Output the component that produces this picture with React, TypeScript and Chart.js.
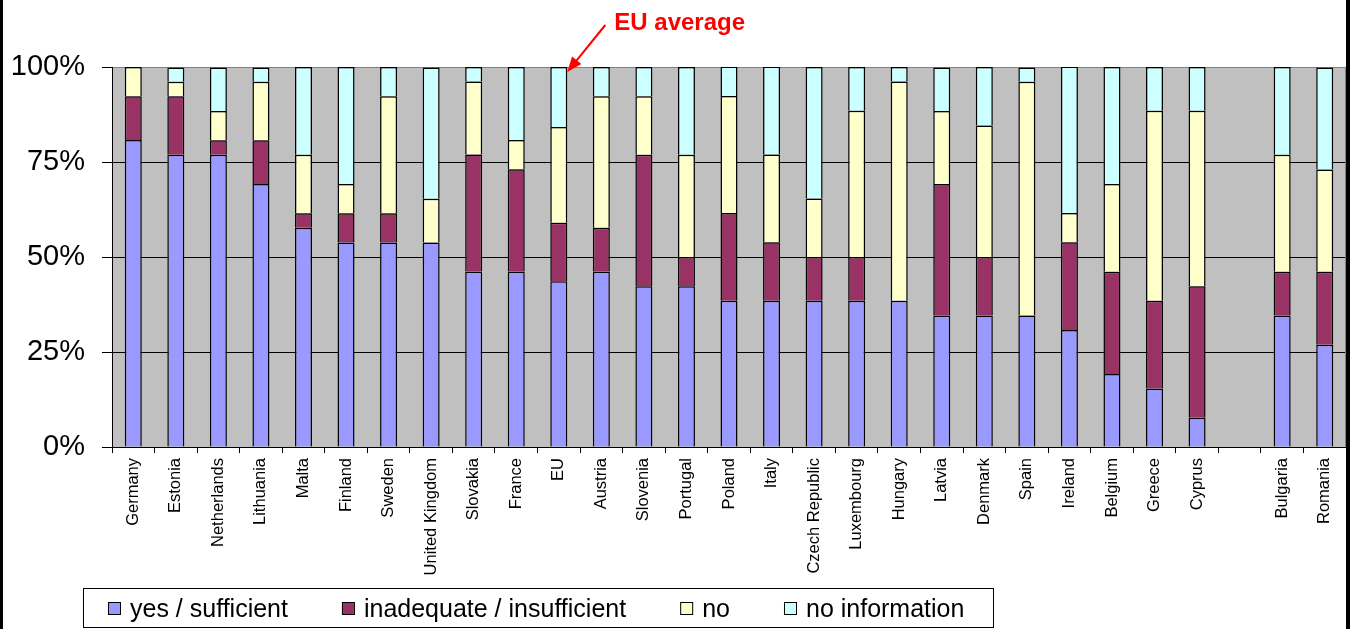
import React, { useEffect, useRef } from 'react';
import { Chart, registerables } from 'chart.js';

Chart.register(...registerables);

// ---------- data ----------
const categories = [
  'Germany', 'Estonia', 'Netherlands', 'Lithuania', 'Malta', 'Finland', 'Sweden',
  'United Kingdom', 'Slovakia', 'France', 'EU', 'Austria', 'Slovenia', 'Portugal',
  'Poland', 'Italy', 'Czech Republic', 'Luxembourg', 'Hungary', 'Latvia', 'Denmark',
  'Spain', 'Ireland', 'Belgium', 'Greece', 'Cyprus', '', 'Bulgaria', 'Romania',
];

const seriesNames = ['yes / sufficient', 'inadequate / insufficient', 'no', 'no information'];

const yesSufficient = [
  80.8, 76.9, 76.9, 69.2, 57.7, 53.8, 53.8, 53.8, 46.2, 46.2, 43.6, 46.2, 42.3, 42.3,
  38.5, 38.5, 38.5, 38.5, 38.5, 34.6, 34.6, 34.6, 30.8, 19.2, 15.4, 7.7, null, 34.6, 26.9,
];
const inadequateInsufficient = [
  11.5, 15.4, 3.8, 11.5, 3.8, 7.7, 7.7, 0, 30.8, 26.9, 15.4, 11.5, 34.6, 7.7,
  23.1, 15.4, 11.5, 11.5, 0, 34.6, 15.4, 0, 23.1, 26.9, 23.1, 34.6, null, 11.5, 19.2,
];
const no = [
  7.7, 3.8, 7.7, 15.4, 15.4, 7.7, 30.8, 11.5, 19.2, 7.7, 25.2, 34.6, 15.4, 26.9,
  30.8, 23.1, 15.4, 38.5, 57.7, 19.2, 34.6, 61.5, 7.7, 23.1, 50.0, 46.2, null, 30.8, 26.9,
];
const noInformation = [
  0, 3.8, 11.5, 3.8, 23.1, 30.8, 7.7, 34.6, 3.8, 19.2, 15.8, 7.7, 7.7, 23.1,
  7.7, 23.1, 34.6, 11.5, 3.8, 11.5, 15.4, 3.8, 38.5, 30.8, 11.5, 11.5, null, 23.1, 26.9,
];

const yTickValues = [0, 25, 50, 75, 100];
const annotationText = 'EU average';
const annotatedCategory = 'EU';

// ---------- styles ----------
const COLORS = ['#9999FF', '#993366', '#FFFFCC', '#CCFFFF'];
const FONT = '"Liberation Sans", Arial, sans-serif';
const W = 1350;
const H = 629;

const chromePlugin = {
  id: 'chrome',
  beforeDraw(chart: any) {
    const { ctx, chartArea } = chart;
    ctx.save();
    ctx.fillStyle = '#FFFFFF';
    ctx.fillRect(0, 0, chart.width, chart.height);
    ctx.fillStyle = '#C0C0C0';
    ctx.fillRect(chartArea.left, chartArea.top, chartArea.right - chartArea.left, chartArea.bottom - chartArea.top);
    ctx.restore();
  },
  afterDraw(chart: any) {
    const { ctx, chartArea, scales } = chart;
    ctx.save();
    // plot right border
    ctx.strokeStyle = '#808080';
    ctx.lineWidth = 1;
    ctx.beginPath();
    ctx.moveTo(chartArea.right - 0.5, chartArea.top);
    ctx.lineTo(chartArea.right - 0.5, chartArea.bottom);
    ctx.stroke();

    // outer frame (left/right)
    ctx.fillStyle = '#000000';
    ctx.fillRect(0, 0, 3, H);
    ctx.fillRect(W - 4, 0, 4, H);

    // EU average annotation
    const idx = categories.indexOf(annotatedCategory);
    const meta = chart.getDatasetMeta(3);
    const bar = meta.data[idx];
    const barHalf = bar ? bar.width / 2 : 8;
    const tipX = scales.x.getPixelForValue(idx) + barHalf;
    const tipY = scales.y.getPixelForValue(100) + 5;
    const startX = tipX + 38;
    const startY = tipY - 47;
    const ang = Math.atan2(tipY - startY, tipX - startX);
    const headLen = 15;
    const headW = 6;
    ctx.strokeStyle = '#FF0000';
    ctx.fillStyle = '#FF0000';
    ctx.lineWidth = 2;
    ctx.beginPath();
    ctx.moveTo(startX, startY);
    ctx.lineTo(tipX - Math.cos(ang) * headLen * 0.8, tipY - Math.sin(ang) * headLen * 0.8);
    ctx.stroke();
    const bx = tipX - Math.cos(ang) * headLen;
    const by = tipY - Math.sin(ang) * headLen;
    ctx.beginPath();
    ctx.moveTo(tipX, tipY);
    ctx.lineTo(bx + Math.sin(ang) * headW, by - Math.cos(ang) * headW);
    ctx.lineTo(bx - Math.sin(ang) * headW, by + Math.cos(ang) * headW);
    ctx.closePath();
    ctx.fill();
    ctx.font = `bold 24px ${FONT}`;
    ctx.textBaseline = 'alphabetic';
    ctx.textAlign = 'left';
    ctx.fillText(annotationText, startX + 9, 30);

    // legend
    const boxL = 83, boxT = 588, boxR = 993, boxB = 627;
    ctx.fillStyle = '#FFFFFF';
    ctx.fillRect(boxL, boxT, boxR - boxL, boxB - boxT);
    ctx.strokeStyle = '#000000';
    ctx.lineWidth = 1;
    ctx.strokeRect(boxL + 0.5, boxT + 0.5, boxR - boxL, boxB - boxT);
    ctx.font = `25px ${FONT}`;
    ctx.textBaseline = 'alphabetic';
    let x = 108;
    seriesNames.forEach((name, i) => {
      ctx.fillStyle = COLORS[i];
      ctx.fillRect(x, 602, 12, 12);
      ctx.strokeStyle = '#000000';
      ctx.strokeRect(x + 0.5, 602.5, 12, 12);
      ctx.fillStyle = '#000000';
      ctx.fillText(name, x + 22, 617);
      x += 22 + ctx.measureText(name).width + 54;
    });
    ctx.restore();
  },
};

export default function App() {
  const ref = useRef<HTMLCanvasElement | null>(null);

  useEffect(() => {
    if (!ref.current) return;
    const seriesData = [yesSufficient, inadequateInsufficient, no, noInformation];
    const chart = new Chart(ref.current, {
      type: 'bar',
      data: {
        labels: categories,
        datasets: seriesNames.map((name, i) => ({
          label: name,
          data: seriesData[i],
          backgroundColor: COLORS[i],
          borderColor: '#000000',
          borderWidth: 1.5,
          borderSkipped: 'bottom',
          barPercentage: 0.4,
          categoryPercentage: 1,
        })),
      },
      options: {
        responsive: false,
        animation: false,
        events: [],
        layout: { padding: { left: 0, right: 4, top: 67, bottom: 0 } },
        plugins: {
          legend: { display: false },
          tooltip: { enabled: false },
          title: { display: false },
        },
        scales: {
          x: {
            stacked: true,
            offset: true,
            afterFit: (scale: any) => { scale.height = H - 447; },
            grid: {
              display: true,
              drawOnChartArea: false,
              drawTicks: true,
              tickLength: 6,
              color: '#000000',
              offset: true,
            },
            border: { display: true, color: '#000000', width: 1 },
            ticks: {
              autoSkip: false,
              maxRotation: 90,
              minRotation: 90,
              padding: 5,
              color: '#000000',
              font: { family: FONT, size: 16.5 },
            },
          },
          y: {
            stacked: true,
            min: 0,
            max: 100,
            afterFit: (scale: any) => { scale.width = 112; },
            afterBuildTicks: (scale: any) => {
              scale.ticks = yTickValues.map((v) => ({ value: v }));
            },
            grid: {
              color: (c: any) => (c.tick && c.tick.value === 100 ? '#808080' : '#000000'),
              tickColor: '#000000',
              tickLength: 10,
              lineWidth: 1,
            },
            border: { display: true, color: '#000000', width: 1 },
            ticks: {
              padding: 17,
              color: '#000000',
              font: { family: FONT, size: 29 },
              callback: (v: any) => `${v}%`,
            },
          },
        },
      },
      plugins: [chromePlugin],
    });
    return () => chart.destroy();
  }, []);

  return (
    <div style={{ position: 'fixed', left: 0, top: 0, width: W, height: H, background: '#fff' }}>
      <canvas ref={ref} width={W} height={H} style={{ display: 'block', width: W, height: H }} />
    </div>
  );
}
